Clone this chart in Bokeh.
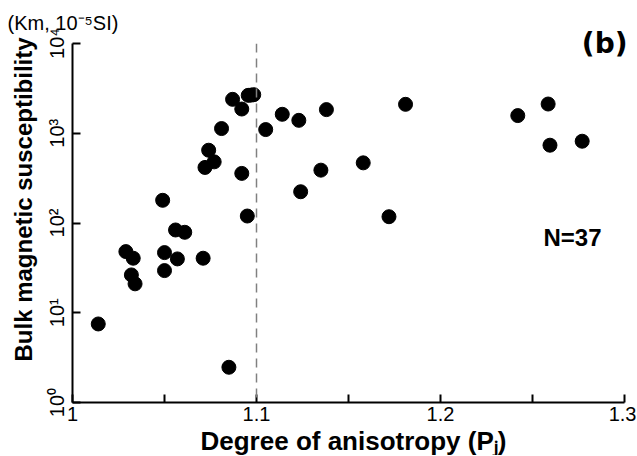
import math
from bokeh.plotting import figure
from bokeh.models import Span, Label, FixedTicker, Title
from bokeh.embed import file_html
from bokeh.resources import INLINE

# Degree of anisotropy (PJ)
pj = [1.014, 1.085, 1.049, 1.056, 1.061, 1.029, 1.033, 1.050, 1.057, 1.071,
      1.032, 1.034, 1.050, 1.095, 1.092, 1.072, 1.074, 1.077, 1.081, 1.087,
      1.092, 1.0955, 1.0985, 1.097, 1.105, 1.114, 1.123, 1.138, 1.135, 1.124,
      1.181, 1.158, 1.172, 1.242, 1.2585, 1.2595, 1.277]
# Bulk magnetic susceptibility (Km, 10^-5 SI)
km = [7.5, 2.47, 179, 83.6, 78.8, 48, 40.5, 46.8, 39.8, 40.5,
      26.4, 21, 29.5, 119.6, 357, 416, 647, 480, 1128, 2387,
      1862, 2645, 2690, 2660, 1099, 1626, 1393, 1834, 388, 223,
      2100, 468, 117.5, 1573, 2117, 736, 815]

x_major = [1.0, 1.1, 1.2, 1.3]
x_minor = [1.05, 1.15, 1.25]
x_labels = ["1", "1.1", "1.2", "1.3"]
y_major = [1, 10, 100, 1000, 10000]
y_labels = ["10\u2070", "10\u00b9", "10\u00b2", "10\u00b3", "10\u2074"]

FONT = "Liberation Sans"

p = figure(width=636, height=455, x_range=(1.0, 1.3), y_range=(1, 1e4),
           y_axis_type="log", output_backend="svg", toolbar_location=None,
           min_border_left=72, min_border_right=12, min_border_top=43,
           min_border_bottom=52)
p.outline_line_color = None
p.grid.grid_line_color = None
p.background_fill_color = "white"
p.border_fill_color = "white"

p.xaxis.ticker = FixedTicker(ticks=x_major, minor_ticks=x_minor)
p.xaxis.major_label_overrides = {v: s for v, s in zip(x_major, x_labels)}
p.yaxis.ticker = FixedTicker(ticks=y_major, minor_ticks=[])
p.yaxis.major_label_overrides = {v: s for v, s in zip(y_major, y_labels)}
p.yaxis.major_label_orientation = "vertical"

for ax in (p.xaxis[0], p.yaxis[0]):
    ax.axis_line_width = 2
    ax.axis_line_color = "black"
    ax.major_tick_in = 8
    ax.major_tick_out = 0
    ax.major_tick_line_width = 2
    ax.major_tick_line_color = "black"
    ax.minor_tick_in = 8
    ax.minor_tick_out = 0
    ax.minor_tick_line_width = 2
    ax.minor_tick_line_color = "black"
    ax.major_label_text_font = FONT
    ax.major_label_text_font_size = "20px"
    ax.major_label_text_color = "black"
p.yaxis.minor_tick_line_color = None
p.xaxis.major_label_standoff = 4
p.yaxis.major_label_standoff = 5

p.add_layout(Span(location=1.1, dimension="height", line_color="#808080",
                  line_dash="9 6", line_width=1.5))

p.scatter(pj, km, size=14, color="black")

# axis titles and unit as side-panel titles
p.add_layout(Title(text="Degree of anisotropy (P\u2c7c)", align="left", offset=128,
                   standoff=0, text_font=FONT, text_font_size="26px",
                   text_font_style="bold", text_color="black"), "below")
p.add_layout(Title(text="Bulk magnetic susceptibility", align="left", offset=41,
                   standoff=11, text_font=FONT, text_font_size="24px",
                   text_font_style="bold", text_color="black"), "left")
# panel label "(b)" straddling the top edge of the frame
p.add_layout(Title(text="(b)", align="right", offset=-3, standoff=-32,
                   text_font="DejaVu Sans", text_font_size="28px",
                   text_font_style="bold", text_color="black"), "above")
p.add_layout(Title(text="(Km, 10\u207b\u2075SI)", align="left", offset=-65,
                   standoff=14, text_font=FONT, text_font_size="20px",
                   text_font_style="normal", text_color="black"), "above")

p.add_layout(Label(x=471, y=165, x_units="screen", y_units="screen", text="N=37",
                   text_font=FONT, text_font_size="24px", text_font_style="bold",
                   text_color="black", text_align="left", text_baseline="alphabetic"))

open("out.html", "w").write(file_html(p, INLINE))
